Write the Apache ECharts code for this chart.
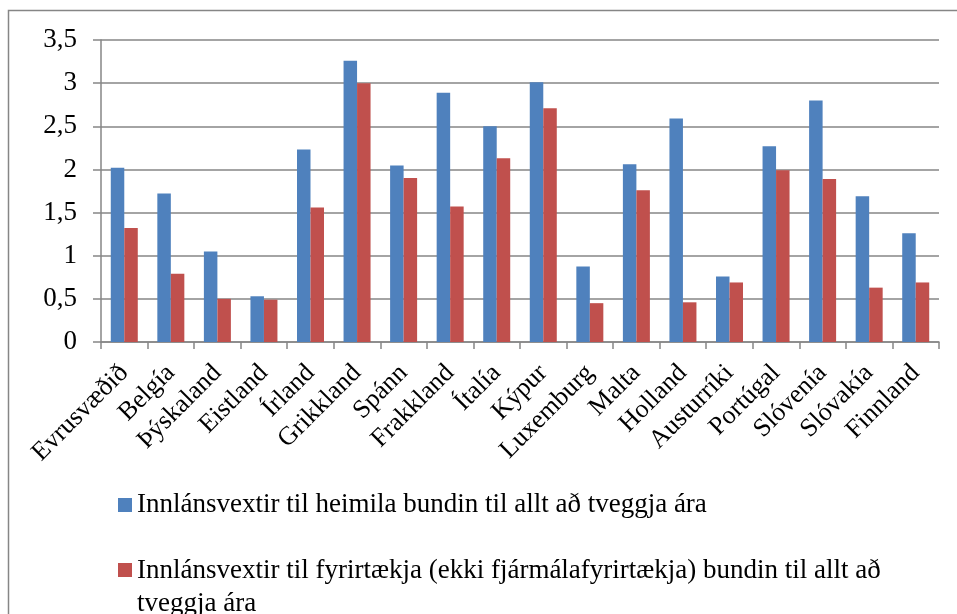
<!DOCTYPE html>
<html>
<head>
<meta charset="utf-8">
<script src="https://cdn.jsdelivr.net/npm/echarts@6/dist/echarts.min.js"></script>
<style>
html,body{margin:0;padding:0;background:#fff;}
#chart{width:957px;height:614px;}
</style>
</head>
<body>
<div id="chart"></div>
<script>
const categories = ["Evrusvæðið","Belgía","Þýskaland","Eistland","Írland","Grikkland","Spánn","Frakkland","Ítalía","Kýpur","Luxemburg","Malta","Holland","Austurríki","Portúgal","Slóvenía","Slóvakía","Finnland"];
const seriesNames = ["Innlánsvextir til heimila bundin til allt að tveggja ára","Innlánsvextir til fyrirtækja (ekki fjármálafyrirtækja) bundin til allt að tveggja ára"];
const households = [2.02,1.72,1.05,0.53,2.23,3.26,2.045,2.89,2.5,3.01,0.876,2.06,2.59,0.76,2.27,2.80,1.69,1.26];
const companies = [1.32,0.79,0.50,0.49,1.56,3.00,1.90,1.57,2.13,2.71,0.45,1.76,0.46,0.69,1.99,1.89,0.63,0.69];
const yTicks = {min:0,max:3.5,interval:0.5};

const font = "'Liberation Serif','Times New Roman',serif";
const legendText = {fontFamily:font,fontSize:27,color:'#000',lineHeight:33};
const chart = echarts.init(document.getElementById('chart'));
chart.setOption({
  animation:false,
  backgroundColor:'#fff',
  graphic:[{type:'rect',shape:{x:8.5,y:10.5,width:1000,height:700},style:{fill:'none',stroke:'#868686',lineWidth:1.5},silent:true}],
  grid:{left:101,right:18,top:40,bottom:272,containLabel:false},
  legend:[
    {orient:'vertical',left:118,top:488.5,padding:0,itemWidth:14,itemHeight:14,icon:'rect',
     textStyle:legendText,data:[seriesNames[0]]},
    {orient:'vertical',left:118,top:554,padding:0,itemWidth:14,itemHeight:48,height:120,
     icon:'path://M0,0L14,0L14,14L0,14Z M0,47.99L0.01,47.99L0.01,48L0,48Z',
     formatter:n=>n.replace(/ (tveggja ára)$/,'\n$1'),
     textStyle:legendText,data:[seriesNames[1]]}
  ],
  xAxis:{
    type:'category',data:categories,
    axisLine:{lineStyle:{color:'#868686',width:1.5}},
    axisTick:{show:true,alignWithLabel:false,length:7,lineStyle:{color:'#868686',width:1.5}},
    axisLabel:{rotate:45,interval:0,fontFamily:font,fontSize:26,color:'#000',margin:27}
  },
  yAxis:{
    type:'value',min:yTicks.min,max:yTicks.max,interval:yTicks.interval,
    axisLine:{show:true,lineStyle:{color:'#868686',width:1.5}},
    axisTick:{show:true,length:8,lineStyle:{color:'#868686',width:1.5}},
    splitLine:{lineStyle:{color:'#868686',width:1.5}},
    axisLabel:{fontFamily:font,fontSize:27,color:'#000',margin:24,formatter:v=>String(v).replace('.',',')}
  },
  series:[
    {name:seriesNames[0],type:'bar',data:households,barWidth:13.5,barGap:'0%',itemStyle:{color:'#4F81BD'}},
    {name:seriesNames[1],type:'bar',data:companies,barWidth:13.5,barGap:'0%',itemStyle:{color:'#C0504D'}}
  ]
});
</script>
</body>
</html>
